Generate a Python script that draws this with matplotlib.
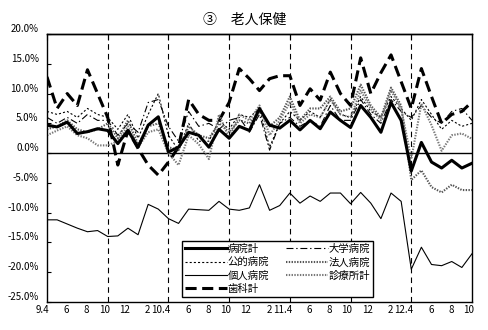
import numpy as np
import matplotlib
matplotlib.use("Agg")
import matplotlib.pyplot as plt
from matplotlib.transforms import ScaledTranslation

plt.rcParams['font.family'] = ['Noto Sans CJK JP', 'DejaVu Sans']
plt.rcParams['lines.scale_dashes'] = False

# 月次の対前年同月比（%）、平成9年4月～平成12年10月
month_labels = ['9.4', '6', '8', '10', '12', '2', '10.4', '6', '8', '10', '12', '2',
                '11.4', '6', '8', '10', '12', '2', '12.4', '6', '8', '10']

byoin_kei = [4.7, 4.4, 5.2, 3.3, 3.6, 4.1, 3.8, 1.6, 3.8, 1.0, 4.7, 6.1,
             0.2, 1.0, 3.5, 3.0, 1.0, 4.0, 2.5, 4.5, 3.8, 7.5, 4.7, 4.2,
             5.5, 3.9, 5.5, 4.1, 6.9, 5.5, 4.3, 8.0, 6.0, 3.5, 8.5, 5.5,
             -3.0, 1.8, -1.5, -2.5, -1.2, -2.5, -1.7]
koteki = [7.0, 6.5, 7.0, 6.0, 7.5, 6.5, 6.0, 4.0, 6.5, 2.5, 6.5, 10.0,
          3.0, 0.5, 5.0, 2.0, 2.0, 5.5, 4.0, 6.5, 6.0, 7.5, 1.0, 5.0,
          7.0, 5.5, 7.0, 6.0, 9.0, 6.5, 6.0, 9.5, 7.0, 6.0, 9.5, 7.5,
          5.5, 9.0, 6.5, 4.0, 5.5, 4.5, 5.0]
kojin = [-11.2, -11.2, -11.9, -12.6, -13.2, -13.0, -14.0, -13.9, -12.6, -13.7, -8.6, -9.4,
         -11.0, -11.8, -9.4, -9.5, -9.6, -8.1, -9.4, -9.6, -9.2, -5.3, -9.6, -8.8,
         -6.7, -8.4, -7.2, -8.1, -6.7, -6.7, -8.5, -6.6, -8.4, -11.0, -6.7, -8.1,
         -19.5, -15.8, -18.7, -18.9, -18.2, -19.2, -16.9]
shika = [12.8, 7.5, 10.0, 8.0, 14.0, 10.0, 6.0, -2.0, 3.8, 0.8, -2.0, -3.7,
         -1.5, 1.0, 9.0, 6.5, 5.5, 5.5, 8.5, 14.2, 12.5, 10.5, 12.5, 13.0,
         13.0, 8.0, 10.8, 8.9, 13.6, 10.0, 8.0, 16.0, 10.0, 13.5, 16.5, 12.0,
         7.5, 14.2, 9.5, 5.0, 6.5, 7.0, 8.6]
daigaku = [6.0, 5.0, 6.0, 5.0, 6.5, 5.5, 5.5, 3.0, 5.0, 3.5, 8.5, 9.0,
           4.5, 2.0, 7.0, 4.5, 5.0, 4.0, 5.5, 6.0, 3.5, 6.5, 0.5, 5.0,
           6.0, 4.5, 5.5, 4.5, 8.0, 5.5, 5.5, 9.0, 6.5, 5.0, 9.0, 7.0,
           6.0, 8.0, 6.0, 5.0, 7.0, 7.5, 5.5]
hojin = [4.0, 4.5, 5.5, 4.0, 3.5, 4.0, 5.0, 2.5, 5.5, 1.5, 4.5, 5.0,
         1.0, 0.5, 4.5, 3.0, 2.5, 5.0, 3.5, 5.5, 5.0, 7.0, 4.5, 6.0,
         9.5, 5.5, 7.5, 7.5, 9.5, 7.0, 7.5, 11.5, 8.0, 6.0, 11.0, 8.0,
         -4.5, -2.9, -5.7, -6.6, -5.3, -6.2, -6.2]
shinryojo = [3.0, 3.8, 4.5, 3.0, 2.5, 1.3, 1.3, 2.0, 4.5, 1.0, 3.5, 4.0,
             0.0, -2.0, 3.0, 1.5, -1.0, 6.5, 2.5, 6.5, 5.5, 8.0, 3.0, 5.5,
             8.5, 5.0, 6.5, 6.0, 9.0, 6.5, 6.0, 10.5, 7.5, 5.5, 10.5, 7.5,
             -1.0, 8.3, 4.7, 0.4, 3.0, 3.3, 2.4]

x = np.arange(len(byoin_kei))

fig = plt.figure(figsize=(4.89, 3.30), dpi=100)
ax = fig.add_axes([0.0961, 0.0848, 0.8691, 0.8121])

ax.axhline(0, color='black', lw=1.0, zorder=1)
for xv in range(6, 42, 6):
    ax.axvline(xv, color='black', lw=0.8, dashes=(4, 3), zorder=1)

ax.plot(x, byoin_kei, color='black', lw=2.2, label='病院計', zorder=5)
ax.plot(x, koteki, color='black', lw=0.8, dashes=(1.5, 1.5), label='公的病院')
ax.plot(x, kojin, color='black', lw=0.8, label='個人病院')
ax.plot(x, shika, color='black', lw=2.2, dashes=(8, 4), label='歯科計')
ax.plot(x, daigaku, color='black', lw=0.8, dashes=(5, 2, 1, 2), label='大学病院')
ax.plot(x, hojin, color='#555555', lw=1.5, dashes=(1, 1), label='法人病院')
ax.plot(x, shinryojo, color='#777777', lw=1.5, dashes=(1, 1), label='診療所計')

ax.set_xlim(0, 42)
ax.set_ylim(-25, 20)
ax.set_yticks(np.arange(-25, 21, 5))
ax.set_yticklabels([f'{v:.1f}%' for v in np.arange(-25, 21, 5)])
ax.set_xticks(np.arange(0, 43, 2))
ax.set_xticklabels(month_labels, ha='right')
ax.tick_params(axis='x', length=0, pad=2, labelsize=7)
ax.tick_params(axis='y', direction='in', length=3, width=0.8, pad=6, labelsize=7)
for lab in ax.get_yticklabels():
    lab.set_transform(lab.get_transform() + ScaledTranslation(0, 0.06, fig.dpi_scale_trans))
for lab in ax.get_xticklabels():
    lab.set_transform(lab.get_transform() + ScaledTranslation(0.02, 0, fig.dpi_scale_trans))

top = ax.secondary_xaxis('top')
top.set_xticks(np.arange(0, 43, 6))
top.tick_params(direction='in', length=4, width=0.8, labeltop=False)
top.spines['top'].set_linewidth(1.0)

for s in ax.spines.values():
    s.set_linewidth(1.0)
    s.set_color('black')

leg = ax.legend(ncol=2, loc='lower left', bbox_to_anchor=(0.318, 0.019),
                borderaxespad=0, fontsize=7.5, handlelength=4.0, handletextpad=0.1,
                columnspacing=1.6, labelspacing=0.3, borderpad=0.3,
                fancybox=False, framealpha=1, edgecolor='black')
leg.get_frame().set_linewidth(1.0)

fig.text(0.50, 0.94, '③　老人保健', ha='center', va='center', fontsize=10)

fig.savefig('out.png', dpi=100)
